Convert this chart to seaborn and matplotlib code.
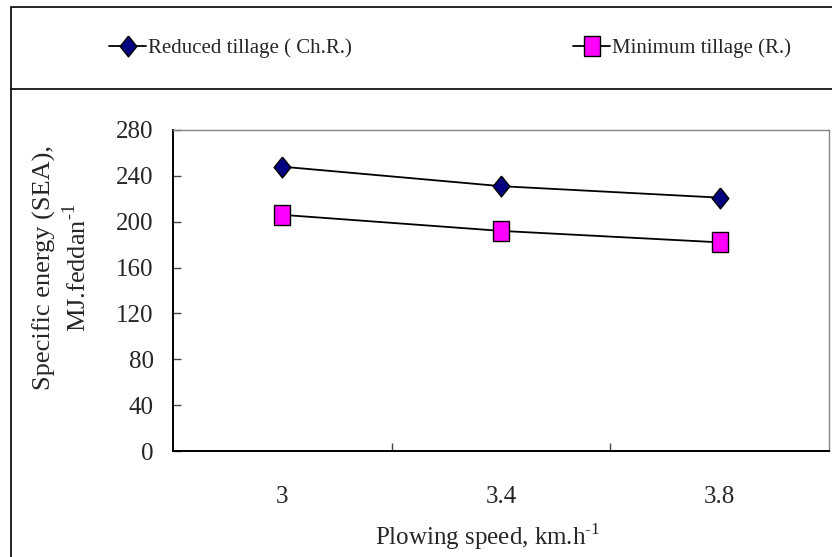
import pandas as pd
import matplotlib.pyplot as plt
import seaborn as sns
from matplotlib.lines import Line2D
from matplotlib.patches import Rectangle

speeds = ["3", "3.4", "3.8"]
reduced = [248, 231, 221]
minimum = [206, 192, 182]
y_ticks = [0, 40, 80, 120, 160, 200, 240, 280]

df = pd.DataFrame({"speed": speeds * 2,
                   "energy": reduced + minimum,
                   "system": ["Reduced tillage ( Ch.R.)"] * 3 + ["Minimum tillage (R.)"] * 3})

sns.set_style("white")
plt.rcParams['font.family'] = ['Liberation Serif', 'DejaVu Serif']
plt.rcParams['mathtext.fontset'] = 'custom'
plt.rcParams['mathtext.rm'] = 'Liberation Serif'

# markers a bit taller than wide, like the reference
diamond = [(0, 0.5), (0.4, 0), (0, -0.5), (-0.4, 0), (0, 0.5)]
box = [(-0.4, -0.5), (0.4, -0.5), (0.4, 0.5), (-0.4, 0.5), (-0.4, -0.5)]
styles = {
    "Reduced tillage ( Ch.R.)": dict(marker=diamond, markersize=15, markerfacecolor="#000080"),
    "Minimum tillage (R.)": dict(marker=box, markersize=15, markerfacecolor="#FF00FF"),
}

fig = plt.figure(figsize=(8.32, 5.57), dpi=100)
ax = fig.add_axes([173 / 832, 1 - 451 / 557, 656 / 832, 321 / 557])

for name, st in styles.items():
    sns.lineplot(data=df[df["system"] == name], x="speed", y="energy", ax=ax, color="black",
                 lw=1.3, sort=False, markeredgecolor="black", markeredgewidth=1.0, **st)

ax.set_xlim(-0.5, 2.5)
ax.set_ylim(0, 280)
ax.set_yticks(y_ticks)
ax.set_xticks(range(len(speeds)))
ax.set_xticklabels(speeds)
ax.set_xticks([0.5, 1.5], minor=True)
ax.tick_params(axis="x", which="major", length=0, pad=25, labelsize=18)
ax.tick_params(axis="x", which="minor", direction="in", length=6, width=1, color="#444444", bottom=True)
ax.tick_params(axis="y", direction="in", length=6, width=1, color="#444444", left=True, pad=14, labelsize=18)

for s in ["left", "bottom"]:
    ax.spines[s].set_color("black")
    ax.spines[s].set_linewidth(1.4)
for s in ["top", "right"]:
    ax.spines[s].set_color("#888888")
    ax.spines[s].set_linewidth(1.0)

ax.set_ylabel("Specific energy (SEA),\nMJ.feddan$^{\\text{-}1}$", fontsize=19, linespacing=1.25)
ax.yaxis.set_label_coords(-0.125, 0.57)
ax.set_xlabel("Plowing speed, km.h$^{\\text{-}1}$", fontsize=18)
ax.xaxis.set_label_coords(0.48, -0.22)

# chart frame and legend strip
fig.patches.append(Rectangle((11 / 832, -0.01), 1.0, 1 - 7 / 557 + 0.01, transform=fig.transFigure,
                             fill=False, ec="black", lw=1.2))
fig.lines.append(Line2D([11 / 832, 1.0], [1 - 89 / 557] * 2, transform=fig.transFigure, color="black", lw=1.2))

for (name, st), x0 in zip(styles.items(), [90, 554]):
    h = Line2D([], [], color="black", lw=1.3, markeredgecolor="black", markeredgewidth=1.0, **st)
    fig.legend([h], [name], loc="center left", bbox_to_anchor=(x0 / 832, 1 - 48 / 557), frameon=False,
               fontsize=15, handlelength=1.8, handletextpad=0.1)

fig.savefig("out.png", dpi=100)
